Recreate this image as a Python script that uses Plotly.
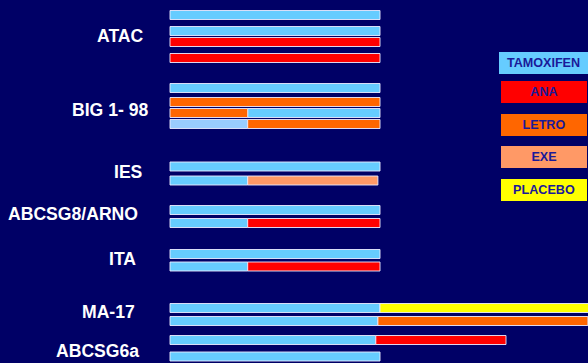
import plotly.graph_objects as go

# ---- data ----
trials = ["ATAC", "BIG 1- 98", "IES", "ABCSG8/ARNO", "ITA", "MA-17", "ABCSG6a"]
label_y = [36, 110, 172, 214, 259, 312, 351]
label_right = [146, 150, 145, 140, 138, 137, 141]

# row positions (pixel-like vertical units) of each arm bar
row_y = [15, 31, 42, 58, 88, 102, 113, 124, 166.5, 180.5, 210, 223, 254, 266.5, 308, 321, 340, 356.5]

# segments: (row index, drug, start year, end year)
segments = [
    (0, "TAM", 0, 5), (1, "TAM", 0, 5), (2, "ANA", 0, 5), (3, "ANA", 0, 5),
    (4, "TAM", 0, 5), (5, "LETRO", 0, 5), (6, "LETRO", 0, 1.85), (6, "TAM", 1.85, 5),
    (7, "TAM_L", 0, 1.85), (7, "LETRO", 1.85, 5),
    (8, "TAM", 0, 5), (9, "TAM", 0, 1.85), (9, "EXE", 1.85, 4.95),
    (10, "TAM", 0, 5), (11, "TAM", 0, 1.85), (11, "ANA", 1.85, 5),
    (12, "TAM", 0, 5), (13, "TAM", 0, 1.85), (13, "ANA", 1.85, 5),
    (14, "TAM", 0, 5), (14, "PLACEBO", 5, 10.2), (15, "TAM", 0, 4.95), (15, "LETRO", 4.95, 9.95),
    (16, "TAM", 0, 4.9), (16, "ANA", 4.9, 8.0), (17, "TAM", 0, 5),
]

drug_colors = {
    "TAM": "#66CCFF", "TAM_L": "#99CCFF", "ANA": "#FF0000",
    "LETRO": "#FF6600", "EXE": "#FF9966", "PLACEBO": "#FFFF00",
}
legend_names = ["TAMOXIFEN", "ANA", "LETRO", "EXE", "PLACEBO"]
legend_keys = ["TAM", "ANA", "LETRO", "EXE", "PLACEBO"]

BG = "#000066"
W, H = 588, 363

fig = go.Figure()
for key, col in drug_colors.items():
    segs = [s for s in segments if s[1] == key]
    if not segs:
        continue
    fig.add_trace(go.Bar(
        orientation="h",
        y=[row_y[s[0]] for s in segs],
        x=[s[3] - s[2] for s in segs],
        base=[s[2] for s in segs],
        width=9,
        marker=dict(color=col, line=dict(color="rgba(235,235,255,0.9)", width=1)),
        showlegend=False, hoverinfo="skip",
    ))

px_per_year = 42.0
x0 = 170.0
fig.update_xaxes(range=[-x0 / px_per_year, (W - x0) / px_per_year], visible=False)
fig.update_yaxes(range=[H, 0], visible=False)

annotations = []
for name, yy, xr in zip(trials, label_y, label_right):
    annotations.append(dict(
        x=(xr - x0) / px_per_year, y=yy, xref="x", yref="y", text=name,
        showarrow=False, xanchor="right", yanchor="middle",
        font=dict(family="Liberation Sans, Arial", size=17.6, color="white", weight="bold"),
    ))

leg_boxes = [(499, 52, 89), (501, 81, 86), (501, 114, 86), (501, 146, 86), (501, 179, 86)]
for name, key, (bx, by, bw) in zip(legend_names, legend_keys, leg_boxes):
    annotations.append(dict(
        x=bx / W, y=1 - by / H, xref="paper", yref="paper", text=name,
        showarrow=False, xanchor="left", yanchor="top",
        width=bw, height=22, bgcolor=drug_colors[key], borderpad=0, borderwidth=0,
        align="center", valign="middle",
        font=dict(family="Liberation Sans, Arial", size=12.6, color="#1a1a99", weight="bold"),
    ))

fig.update_layout(
    width=W, height=H, margin=dict(l=0, r=0, t=0, b=0),
    paper_bgcolor=BG, plot_bgcolor=BG, barmode="overlay",
    annotations=annotations,
)

fig.write_html("out.html")
